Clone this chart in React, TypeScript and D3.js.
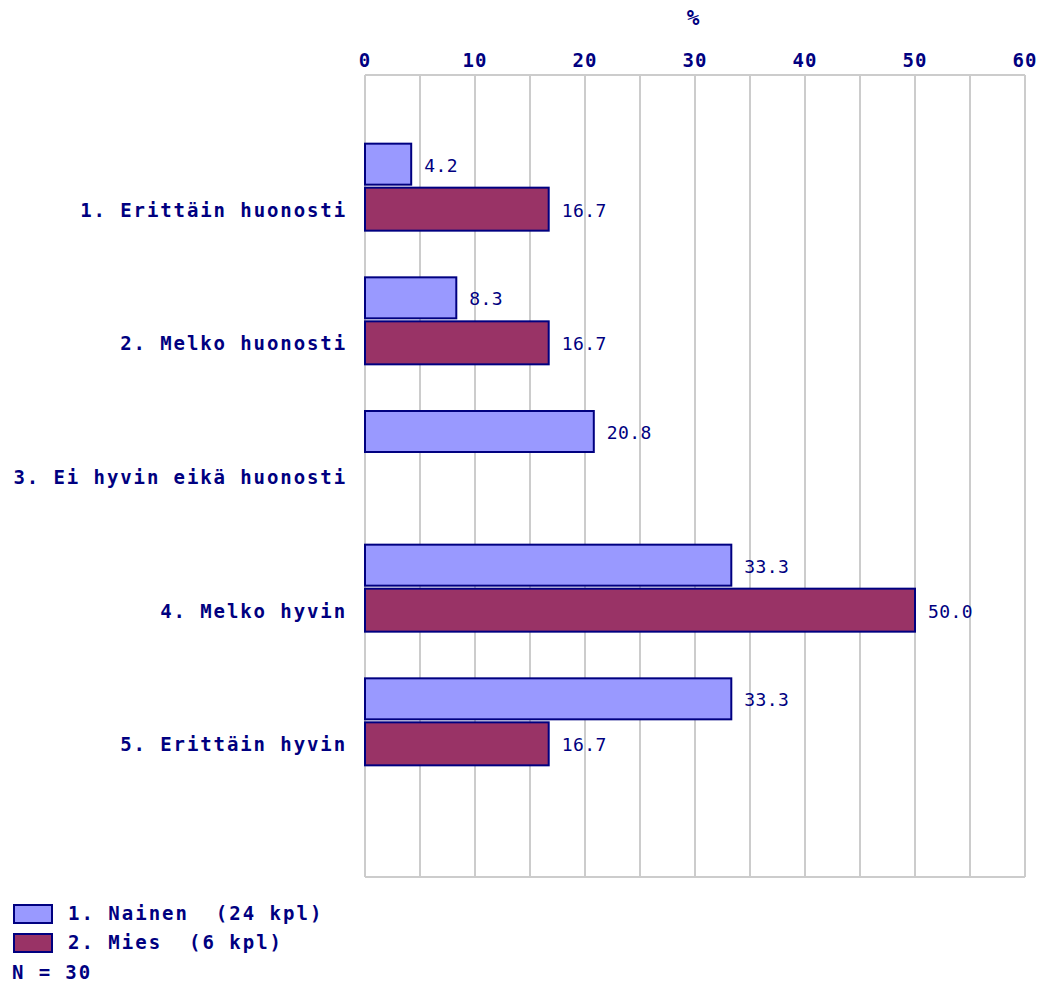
import React from "react";
import * as d3 from "d3";

const categories = [
  "1. Erittäin huonosti",
  "2. Melko huonosti",
  "3. Ei hyvin eikä huonosti",
  "4. Melko hyvin",
  "5. Erittäin hyvin",
];
const naisetValues: (number | null)[] = [4.2, 8.3, 20.8, 33.3, 33.3];
const miehetValues: (number | null)[] = [16.7, 16.7, null, 50.0, 16.7];
const seriesNames = ["1. Nainen  (24 kpl)", "2. Mies  (6 kpl)"];
const seriesColors = ["#9999ff", "#993366"];
const xTicks = [0, 10, 20, 30, 40, 50, 60];
const gridValues = [0, 5, 10, 15, 20, 25, 30, 35, 40, 45, 50, 55, 60];
const nLabel = "N = 30";
const axisTitle = "%";

const W = 1041;
const H = 985;
const left = 365;
const right = 1025;
const top = 75;
const bottom = 877;
const navy = "#000080";
const boldFont = "'DejaVu Sans Mono', monospace";

export default function App() {
  const x = d3.scaleLinear().domain([0, 60]).range([left, right]);
  const slot = (bottom - top) / 6;
  const y = d3
    .scaleBand<string>()
    .domain(categories)
    .range([top, top + slot * categories.length])
    .paddingInner(0)
    .paddingOuter(0);
  const series = [naisetValues, miehetValues];
  const barOffsets = [
    [-65, -24],
    [-21, 22],
  ];

  return (
    <svg
      width={W}
      height={H}
      style={{ position: "absolute", left: 0, top: 0, background: "#fff" }}
    >
      <rect x={0} y={0} width={W} height={H} fill="#fff" />
      {gridValues.map((g) => (
        <line
          key={"g" + g}
          x1={x(g)}
          x2={x(g)}
          y1={top}
          y2={bottom}
          stroke="#cccccc"
          strokeWidth={2}
        />
      ))}
      <line x1={left} x2={right} y1={top} y2={top} stroke="#cccccc" strokeWidth={2} />
      <line x1={left} x2={right} y1={bottom} y2={bottom} stroke="#cccccc" strokeWidth={2} />
      {xTicks.map((t) => (
        <text
          key={"t" + t}
          x={x(t)}
          y={60}
          textAnchor="middle"
          dominantBaseline="central"
          fill={navy}
          fontFamily={boldFont}
          fontWeight="bold"
          fontSize={19}
          letterSpacing={1}
        >
          {t}
        </text>
      ))}
      <text
        x={693}
        y={18}
        textAnchor="middle"
        dominantBaseline="central"
        fill={navy}
        fontFamily={boldFont}
        fontWeight="bold"
        fontSize={21}
      >
        {axisTitle}
      </text>
      {categories.map((c, i) => {
        const base = (y(c) as number) + y.bandwidth();
        return (
          <g key={c}>
            {series.map((vals, s) => {
              const v = vals[i];
              if (v === null || v === undefined) return null;
              const y0 = base + barOffsets[s][0];
              const y1 = base + barOffsets[s][1];
              return (
                <g key={s}>
                  <rect
                    x={x(0)}
                    y={y0}
                    width={x(v) - x(0)}
                    height={y1 - y0}
                    fill={seriesColors[s]}
                    stroke={navy}
                    strokeWidth={2}
                  />
                  <text
                    x={x(v) + 13}
                    y={(y0 + y1) / 2 + 1}
                    dominantBaseline="central"
                    fill={navy}
                    fontFamily={boldFont}
                    fontSize={18}
                    letterSpacing={0.4}
                  >
                    {v.toFixed(1)}
                  </text>
                </g>
              );
            })}
            <text
              x={347}
              y={base + 1}
              textAnchor="end"
              dominantBaseline="central"
              fill={navy}
              fontFamily={boldFont}
              fontWeight="bold"
              fontSize={19}
              letterSpacing={1.9}
            >
              {c}
            </text>
          </g>
        );
      })}
      {seriesNames.map((n, s) => (
        <g key={n}>
          <rect
            x={14}
            y={905 + s * 29}
            width={38}
            height={18}
            fill={seriesColors[s]}
            stroke={navy}
            strokeWidth={2}
          />
          <text
            x={68}
            y={913 + s * 29}
            dominantBaseline="central"
            fill={navy}
            fontFamily={boldFont}
            fontWeight="bold"
            fontSize={19}
            letterSpacing={2}
            style={{ whiteSpace: "pre" }}
          >
            {n}
          </text>
        </g>
      ))}
      <text
        x={12}
        y={972}
        dominantBaseline="central"
        fill={navy}
        fontFamily={boldFont}
        fontWeight="bold"
        fontSize={19}
        letterSpacing={1.9}
        style={{ whiteSpace: "pre" }}
      >
        {nLabel}
      </text>
    </svg>
  );
}
